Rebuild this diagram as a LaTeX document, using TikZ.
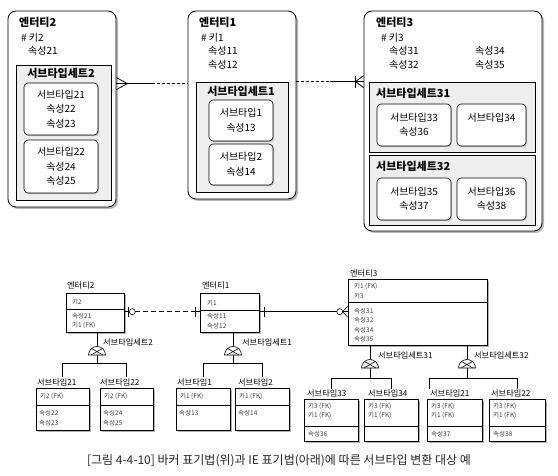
\documentclass[tikz,border=0pt]{standalone}
\usepackage{fontspec}
\setmainfont{Noto Sans CJK KR}
\usetikzlibrary{shadows}
\usetikzlibrary{calc}
% Barker (top)
\tikzstyle{entity}=[rectangle, draw, rounded corners=8pt, fill=white,
  line width=0.8pt, inner sep=0pt,
  drop shadow={shadow xshift=2pt, shadow yshift=-2pt, fill=gray!55, opacity=1}]
\tikzstyle{stset}=[rectangle, draw, sharp corners, fill=gray!13,
  line width=0.8pt, inner sep=0pt]
\tikzstyle{subtype}=[rectangle, draw, rounded corners=4pt, fill=white,
  line width=0.6pt, inner sep=0pt, align=center,
  font=\fontsize{10}{14.5}\selectfont,
  drop shadow={shadow xshift=1.2pt, shadow yshift=-1.2pt, fill=gray!50, opacity=1}]
\tikzstyle{ttl}=[font=\bfseries\fontsize{11}{13}\selectfont, inner sep=0pt]
\tikzstyle{txt}=[font=\fontsize{10}{14.5}\selectfont, inner sep=0pt,
  anchor=west, align=left]
\tikzstyle{rel}=[line width=0.8pt]
% IE (bottom)
\tikzstyle{iebox}=[rectangle, draw, fill=white, line width=0.6pt, inner sep=0pt,
  drop shadow={shadow xshift=2pt, shadow yshift=-2pt, fill=gray!60, opacity=1}]
\tikzstyle{ielbl}=[font=\fontsize{8.2}{10}\selectfont, inner sep=0pt, anchor=west]
\tikzstyle{ietxt}=[font=\fontsize{6.5}{9.5}\selectfont, inner sep=0pt,
  anchor=west, align=left, text=black!75]
\tikzstyle{ieline}=[line width=0.6pt]

% subtype symbol: half circle with a cross, #1 = centre of its base
\newcommand{\subdome}[1]{%
  \draw[ieline, fill=white] ([xshift=-8.5pt]#1) arc[start angle=180,
    end angle=0, radius=8.5pt] -- cycle;
  \draw[ieline] ([xshift=-6pt]#1) -- ([xshift=5.5pt, yshift=6.5pt]#1);
  \draw[ieline] ([xshift=6pt]#1) -- ([xshift=-5.5pt, yshift=6.5pt]#1);
}

\begin{document}
\begin{tikzpicture}[x=1pt, y=-1pt]
\useasboundingbox (0,0) rectangle (558,476);

%%% Barker notation
\node[entity, minimum width=108pt, minimum height=196pt] (ent2) at (62,109) {};
\node[entity, minimum width=108pt, minimum height=188pt] (ent1) at (242,105) {};
\node[entity, minimum width=178pt, minimum height=220pt] (ent3) at (453,121) {};

\node[ttl, anchor=west] (t2) at (19,22) {엔터티2};
\node[txt] (k2) at (21,38) {\# 키2};
\node[txt] (a2) at (28,51) {속성21};

\node[ttl, anchor=west] (t1) at (199,22) {엔터티1};
\node[txt] (k1) at (201,38) {\# 키1};
\node[txt] (a1) at (208,58) {속성11\\속성12};

\node[ttl, anchor=west] (t3) at (376,22) {엔터티3};
\node[txt] (k3) at (381,38) {\# 키3};
\node[txt] (a3l) at (389,58) {속성31\\속성32};
\node[txt] (a3r) at (475,58) {속성34\\속성35};

% subtype sets
\node[stset, minimum width=95pt, minimum height=135pt] (set2) at (63.5,132.5) {};
\node[ttl] (st2) at (61,73) {서브타입세트2};
\node[subtype, minimum width=74pt, minimum height=52pt] (sub21) at (61,109)
  {서브타입21\\속성22\\속성23};
\node[subtype, minimum width=74pt, minimum height=53pt] (sub22) at (61,166.5)
  {서브타입22\\속성24\\속성25};

\node[stset, minimum width=92pt, minimum height=110pt] (set1) at (242,137) {};
\node[ttl] (st1) at (241,91) {서브타입세트1};
\node[subtype, minimum width=64pt, minimum height=41pt] (sub1) at (241,120.5)
  {서브타입1\\속성13};
\node[subtype, minimum width=64pt, minimum height=41pt] (sub2) at (241,164.5)
  {서브타입2\\속성14};

\node[stset, minimum width=166pt, minimum height=70pt] (set31) at (452,117) {};
\node[ttl, anchor=west] (st31) at (376,93) {서브타입세트31};
\node[subtype, minimum width=74pt, minimum height=42pt] (sub33) at (414,125)
  {서브타입33\\속성36};
\node[subtype, minimum width=69pt, minimum height=42pt] (sub34) at (491.5,125)
  {서브타입34\\\phantom{속성}};

\node[stset, minimum width=166pt, minimum height=70pt] (set32) at (452,190) {};
\node[ttl, anchor=west] (st32) at (376,166) {서브타입세트32};
\node[subtype, minimum width=74pt, minimum height=42pt] (sub35) at (414,199)
  {서브타입35\\속성37};
\node[subtype, minimum width=69pt, minimum height=42pt] (sub36) at (491.5,199)
  {서브타입36\\속성38};

% relationships
\path ([yshift=-73pt]ent2.north east) coordinate (r2a)
      ([yshift=-73pt]ent1.north west) coordinate (r2b);
\draw[rel] (r2a) -- ($(r2a)!.5!(r2b)$);
\draw[rel, dash pattern=on 3pt off 2pt] ($(r2a)!.5!(r2b)$) -- (r2b);
\draw[rel] ([yshift=6pt]r2a) -- ([xshift=11pt]r2a) -- ([yshift=-6pt]r2a);

\path ([yshift=-71pt]ent1.north east) coordinate (r3a)
      ([yshift=-71pt]ent3.north west) coordinate (r3b);
\draw[rel, dash pattern=on 3pt off 2pt] (r3a) -- ($(r3a)!.5!(r3b)$);
\draw[rel] ($(r3a)!.5!(r3b)$) -- (r3b);
\draw[rel] ([yshift=6pt]r3b) -- ([xshift=-8pt]r3b) -- ([yshift=-6pt]r3b);
\draw[rel] ([xshift=-8pt, yshift=6pt]r3b) -- ([xshift=-8pt, yshift=-6pt]r3b);

%%% IE notation
\node[ielbl] (l2) at (67,285) {엔터티2};
\node[iebox, minimum width=58pt, minimum height=39pt] (ie2) at (95,312.5) {};
\draw[ieline] ([yshift=-17pt]ie2.north west) -- ([yshift=-17pt]ie2.north east);
\node[ietxt] at (72,302) {키2};
\node[ietxt] at (72,321) {속성21\\키1 (FK)};

\node[ielbl] (l1) at (202,285) {엔터티1};
\node[iebox, minimum width=59pt, minimum height=39pt] (ie1) at (229.5,312.5) {};
\draw[ieline] ([yshift=-18pt]ie1.north west) -- ([yshift=-18pt]ie1.north east);
\node[ietxt] at (207,303) {키1};
\node[ietxt] at (207,321) {속성11\\속성12};

\node[ielbl] (l3) at (350,273) {엔터티3};
\node[iebox, minimum width=139pt, minimum height=66pt] (ie3) at (417.5,312) {};
\draw[ieline] ([yshift=-24pt]ie3.north west) -- ([yshift=-24pt]ie3.north east);
\node[ietxt] at (354,291) {키1 (FK)\\키3};
\node[ietxt] at (354,325) {속성31\\속성32\\속성34\\속성35};

% relationships
\path ([yshift=-19pt]ie2.north east) coordinate (q2a)
      ([yshift=-19pt]ie1.north west) coordinate (q2b);
\draw[ieline] (q2a) -- ([xshift=5pt]q2a);
\draw[ieline] ([xshift=4pt, yshift=5pt]q2a) -- ([xshift=4pt, yshift=-5pt]q2a);
\draw[ieline] ([xshift=8pt]q2a) circle (3pt);
\draw[ieline, dash pattern=on 5pt off 3pt] ([xshift=11pt]q2a) -- ([xshift=-4pt]q2b);
\draw[ieline] ([xshift=-4pt]q2b) -- (q2b);
\draw[ieline] ([xshift=-4pt, yshift=5pt]q2b) -- ([xshift=-4pt, yshift=-5pt]q2b);

\path ([yshift=-19pt]ie1.north east) coordinate (q3a)
      ([yshift=-33pt]ie3.north west) coordinate (q3b);
\draw[ieline] (q3a) -- ([xshift=-11pt]q3b);
\draw[ieline] ([xshift=5pt, yshift=5pt]q3a) -- ([xshift=5pt, yshift=-5pt]q3a);
\draw[ieline] ([xshift=-8pt]q3b) circle (3pt);
\draw[ieline] ([xshift=-5pt]q3b) -- (q3b);
\draw[ieline] ([yshift=5.5pt]q3b) -- ([xshift=-5pt]q3b) -- ([yshift=-5.5pt]q3b);

% subtypes of 엔터티2
\node[ielbl] (sl2) at (103,342) {서브타입세트2};
\node[ielbl] (n21) at (37,382) {서브타입21};
\node[iebox, minimum width=53pt, minimum height=42pt] (ies21) at (62.5,409) {};
\draw[ieline] ([yshift=-18pt]ies21.north west) -- ([yshift=-18pt]ies21.north east);
\node[ietxt] at (40,396) {키2 (FK)};
\node[ietxt] at (39,418) {속성22\\속성23};
\node[ielbl] (n22) at (100,382) {서브타입22};
\node[iebox, minimum width=53pt, minimum height=42pt] (ies22) at (126.5,409) {};
\draw[ieline] ([yshift=-18pt]ies22.north west) -- ([yshift=-18pt]ies22.north east);
\node[ietxt] at (104,396) {키2 (FK)};
\node[ietxt] at (103,418) {속성24\\속성25};

\coordinate (dm2) at (97,355);
\draw[ieline] (dm2 |- ie2.south) -- ([yshift=8.5pt]dm2);
\draw[ieline] (dm2) -- ++(0,8) -| ([yshift=11pt]ies21.north);
\draw[ieline] (dm2) -- ++(0,8) -| ([yshift=11pt]ies22.north);
\subdome{dm2}

% subtypes of 엔터티1
\node[ielbl] (sl1) at (242,342) {서브타입세트1};
\node[ielbl] (n1) at (177,382) {서브타입1};
\node[iebox, minimum width=54pt, minimum height=42pt] (ies1) at (203,409) {};
\draw[ieline] ([yshift=-18pt]ies1.north west) -- ([yshift=-18pt]ies1.north east);
\node[ietxt] at (180,396) {키1 (FK)};
\node[ietxt] at (179,413) {속성13};
\node[ielbl] (n2) at (238,382) {서브타입2};
\node[iebox, minimum width=54pt, minimum height=42pt] (ies2) at (262,409) {};
\draw[ieline] ([yshift=-18pt]ies2.north west) -- ([yshift=-18pt]ies2.north east);
\node[ietxt] at (239,396) {키1 (FK)};
\node[ietxt] at (238,413) {속성14};

\coordinate (dm1) at (233,355);
\draw[ieline] (dm1 |- ie1.south) -- ([yshift=8.5pt]dm1);
\draw[ieline] (dm1) -- ++(0,8) -| ([yshift=11pt]ies1.north);
\draw[ieline] (dm1) -- ++(0,8) -| ([yshift=11pt]ies2.north);
\subdome{dm1}

% subtypes of 엔터티3
\node[ielbl] (sl31) at (378,355) {서브타입세트31};
\node[ielbl] (n33) at (307,393) {서브타입33};
\node[iebox, minimum width=54pt, minimum height=42pt] (ies33) at (331,420) {};
\draw[ieline] ([yshift=-28pt]ies33.north west) -- ([yshift=-28pt]ies33.north east);
\node[ietxt] at (308,411) {키3 (FK)\\키1 (FK)};
\node[ietxt] at (308,434) {속성36};
\node[ielbl] (n34) at (368,393) {서브타입34};
\node[iebox, minimum width=54pt, minimum height=42pt] (ies34) at (391,420) {};
\draw[ieline] ([yshift=-28pt]ies34.north west) -- ([yshift=-28pt]ies34.north east);
\node[ietxt] at (368,411) {키3 (FK)\\키1 (FK)};

\coordinate (dm31) at (370,368);
\draw[ieline] (dm31 |- ie3.south) -- ([yshift=8.5pt]dm31);
\draw[ieline] (dm31) -- ++(0,10) -| ([yshift=10pt]ies33.north);
\draw[ieline] (dm31) -- ++(0,10) -| ([yshift=10pt]ies34.north);
\subdome{dm31}

\node[ielbl] (sl32) at (474,355) {서브타입세트32};
\node[ielbl] (n21b) at (430,393) {서브타입21};
\node[iebox, minimum width=55pt, minimum height=42pt] (ies21b) at (454.5,420) {};
\draw[ieline] ([yshift=-28pt]ies21b.north west) -- ([yshift=-28pt]ies21b.north east);
\node[ietxt] at (431,411) {키3 (FK)\\키1 (FK)};
\node[ietxt] at (431,434) {속성37};
\node[ielbl] (n22b) at (491,393) {서브타입22};
\node[iebox, minimum width=56pt, minimum height=42pt] (ies22b) at (517,420) {};
\draw[ieline] ([yshift=-28pt]ies22b.north west) -- ([yshift=-28pt]ies22b.north east);
\node[ietxt] at (493,411) {키3 (FK)\\키1 (FK)};
\node[ietxt] at (493,434) {속성38};

\coordinate (dm32) at (467,368);
\draw[ieline] (dm32 |- ie3.south) -- ([yshift=8.5pt]dm32);
\draw[ieline] (dm32) -- ++(0,10) -| ([xshift=-25.5pt, yshift=10pt]ies21b.north);
\draw[ieline] (dm32) -- ++(0,10) -| ([yshift=10pt]ies22b.north);
\subdome{dm32}

% caption
\node[font=\fontsize{12}{14}\selectfont, text=black!85, inner sep=0pt] (cap)
  at (279,461) {[그림 4-4-10] 바커 표기법(위)과 IE 표기법(아래)에 따른 서브타입 변환 대상 예};

\end{tikzpicture}
\end{document}
